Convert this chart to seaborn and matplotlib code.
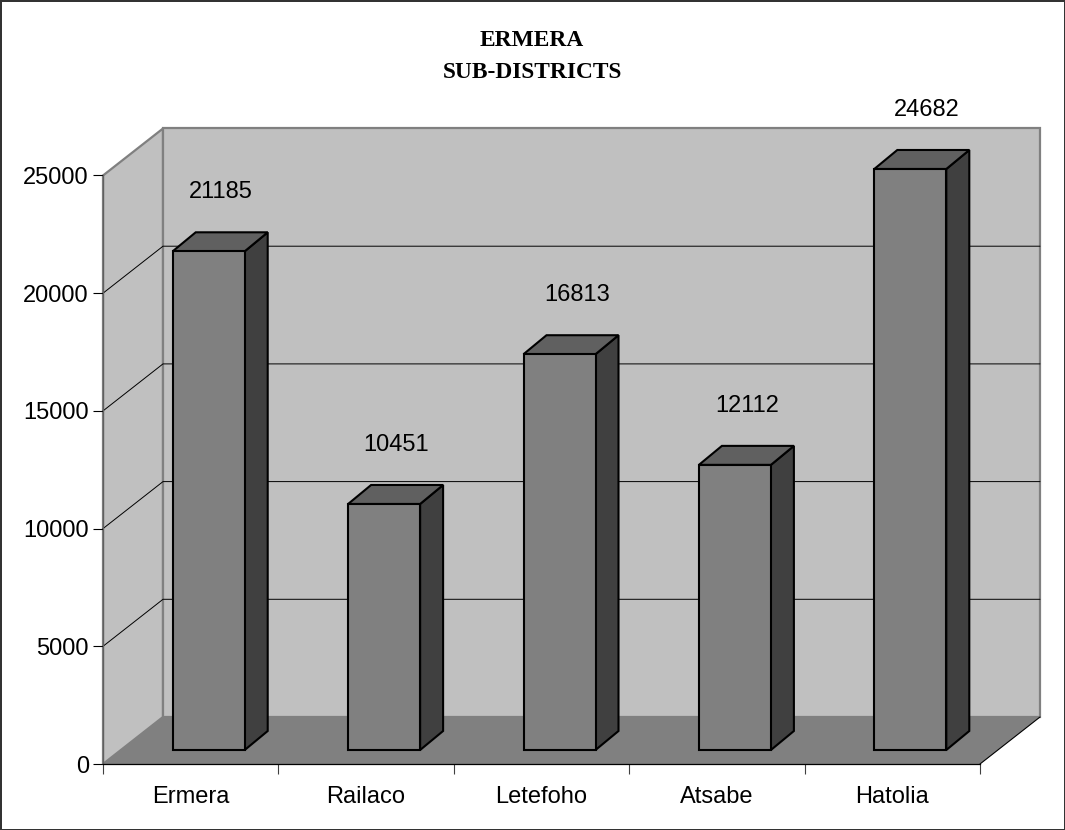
"""Ermera sub-districts bar chart, drawn with an Excel style 3D box look."""

import matplotlib
matplotlib.use("Agg")
import matplotlib.pyplot as plt
from matplotlib.patches import Polygon
import pandas as pd
import seaborn as sns

districts = ["Ermera", "Railaco", "Letefoho", "Atsabe", "Hatolia"]
population = [21185, 10451, 16813, 12112, 24682]
y_ticks = [0, 5000, 10000, 15000, 20000, 25000]
# the value labels do not sit at one fixed distance from their box, pixels to the right
label_nudge = [30, 30, 36, 30, 34]

WIDTH, HEIGHT = 1065, 830
LEFT, RIGHT, BOTTOM, TOP = 103, 980, 764, 175.5
Y_MAX = 25000
X_PER_PX = 5 / (RIGHT - LEFT)
Y_PER_PX = Y_MAX / (BOTTOM - TOP)

# room depth and box depth in pixels, converted to data units
ROOM_DX, ROOM_DY = 60 * X_PER_PX, 47 * Y_PER_PX
BOX_DX, BOX_DY = 23 * X_PER_PX, 19 * Y_PER_PX
GAP_DX, GAP_DY = 18 * X_PER_PX, 14 * Y_PER_PX
BAR_WIDTH = 72 * X_PER_PX

WALL = "#c0c0c0"
FLOOR = "#808080"
EDGE = "#808080"


def add_poly(ax, points, face, edge="none", lw=0.0, zorder=1):
    ax.add_patch(Polygon(points, closed=True, facecolor=face, edgecolor=edge,
                         linewidth=lw, zorder=zorder, clip_on=False, joinstyle="miter"))


def draw_room(ax):
    x0, x1 = -0.5, 4.5
    add_poly(ax, [(x0, 0), (x0 + ROOM_DX, ROOM_DY), (x0 + ROOM_DX, Y_MAX + ROOM_DY), (x0, Y_MAX)],
             WALL, EDGE, 1.6, zorder=0.5)
    add_poly(ax, [(x0 + ROOM_DX, ROOM_DY), (x1 + ROOM_DX, ROOM_DY),
                  (x1 + ROOM_DX, Y_MAX + ROOM_DY), (x0 + ROOM_DX, Y_MAX + ROOM_DY)],
             WALL, EDGE, 1.6, zorder=0.5)
    for value in y_ticks[1:-1]:
        ax.plot([x0, x0 + ROOM_DX, x1 + ROOM_DX], [value, value + ROOM_DY, value + ROOM_DY],
                color="black", lw=0.7, zorder=0.8, clip_on=False)
    add_poly(ax, [(x0, 0), (x1, 0), (x1 + ROOM_DX, ROOM_DY), (x0 + ROOM_DX, ROOM_DY)],
             FLOOR, zorder=1)
    ax.plot([x1, x1 + ROOM_DX], [0, ROOM_DY], color="black", lw=0.8, zorder=1.1, clip_on=False)


def draw_boxes(ax):
    for bar in ax.patches[:len(districts)]:
        bar.set_x(bar.get_x() + GAP_DX)
        bar.set_y(GAP_DY)
        bar.set_clip_on(False)
        bar.set_zorder(3)
        xl = bar.get_x()
        xr = xl + bar.get_width()
        low = bar.get_y()
        high = low + bar.get_height()
        add_poly(ax, [(xr, low), (xr + BOX_DX, low + BOX_DY), (xr + BOX_DX, high + BOX_DY), (xr, high)],
                 "#404040", "black", 1.5, zorder=2.8)
        add_poly(ax, [(xl, high), (xr, high), (xr + BOX_DX, high + BOX_DY), (xl + BOX_DX, high + BOX_DY)],
                 "#606060", "black", 1.5, zorder=2.8)


def main():
    sns.set_theme(style="white")
    plt.rcParams["font.family"] = ["Liberation Sans", "DejaVu Sans"]

    fig = plt.figure(figsize=(WIDTH / 100, HEIGHT / 100), dpi=100)
    fig.patch.set_edgecolor("#333333")
    fig.patch.set_linewidth(2)
    ax = fig.add_axes([LEFT / WIDTH, 1 - BOTTOM / HEIGHT, (RIGHT - LEFT) / WIDTH, (BOTTOM - TOP) / HEIGHT])
    ax.patch.set_visible(False)

    frame = pd.DataFrame({"district": districts, "population": population})
    sns.barplot(data=frame, x="district", y="population", ax=ax, color="#808080", saturation=1,
                width=BAR_WIDTH, edgecolor="black", linewidth=1.5)

    draw_room(ax)
    draw_boxes(ax)

    ax.set_xlim(-0.5, 4.5)
    ax.set_ylim(0, Y_MAX)
    ax.set_xlabel("")
    ax.set_ylabel("")
    ax.set_yticks(y_ticks)
    ax.xaxis.set_major_locator(plt.FixedLocator([-0.5, 0.5, 1.5, 2.5, 3.5, 4.5]))
    ax.xaxis.set_major_formatter(plt.NullFormatter())
    ax.xaxis.set_minor_locator(plt.FixedLocator(range(len(districts))))
    ax.xaxis.set_minor_formatter(plt.FixedFormatter(districts))
    ax.tick_params(axis="x", which="major", length=7.2, width=0.8, color="#404040", bottom=True)
    ax.tick_params(axis="x", which="minor", length=0, pad=16, labelsize=17, labelcolor="black")
    ax.tick_params(axis="y", length=7.2, width=0.8, color="black", left=True, pad=3,
                   labelsize=17, labelcolor="black")
    for label in ax.get_xticklabels(minor=True):
        label.set_x(label.get_position()[0])
    for side in ["top", "right"]:
        ax.spines[side].set_visible(False)
    ax.spines["left"].set_color("#606060")
    ax.spines["left"].set_linewidth(0.9)
    ax.spines["left"].set_zorder(2)
    ax.spines["bottom"].set_color("black")
    ax.spines["bottom"].set_linewidth(0.9)
    ax.spines["bottom"].set_zorder(2)

    for i, (value, nudge) in enumerate(zip(population, label_nudge)):
        ax.annotate(str(value), (i, value), xytext=(nudge, 73), textcoords="offset pixels",
                    ha="center", va="center", fontsize=17, color="black", zorder=5,
                    annotation_clip=False)

    fig.text(532 / WIDTH, 1 - 40 / HEIGHT, "ERMERA", ha="center", va="center", fontsize=16.8,
             fontweight="bold", family="Liberation Serif", color="black")
    fig.text(532 / WIDTH, 1 - 73 / HEIGHT, "SUB-DISTRICTS", ha="center", va="center", fontsize=16.8,
             fontweight="bold", family="Liberation Serif", color="black")

    fig.savefig("out.png", dpi=100, edgecolor="#333333")
    plt.close(fig)


if __name__ == "__main__":
    main()
